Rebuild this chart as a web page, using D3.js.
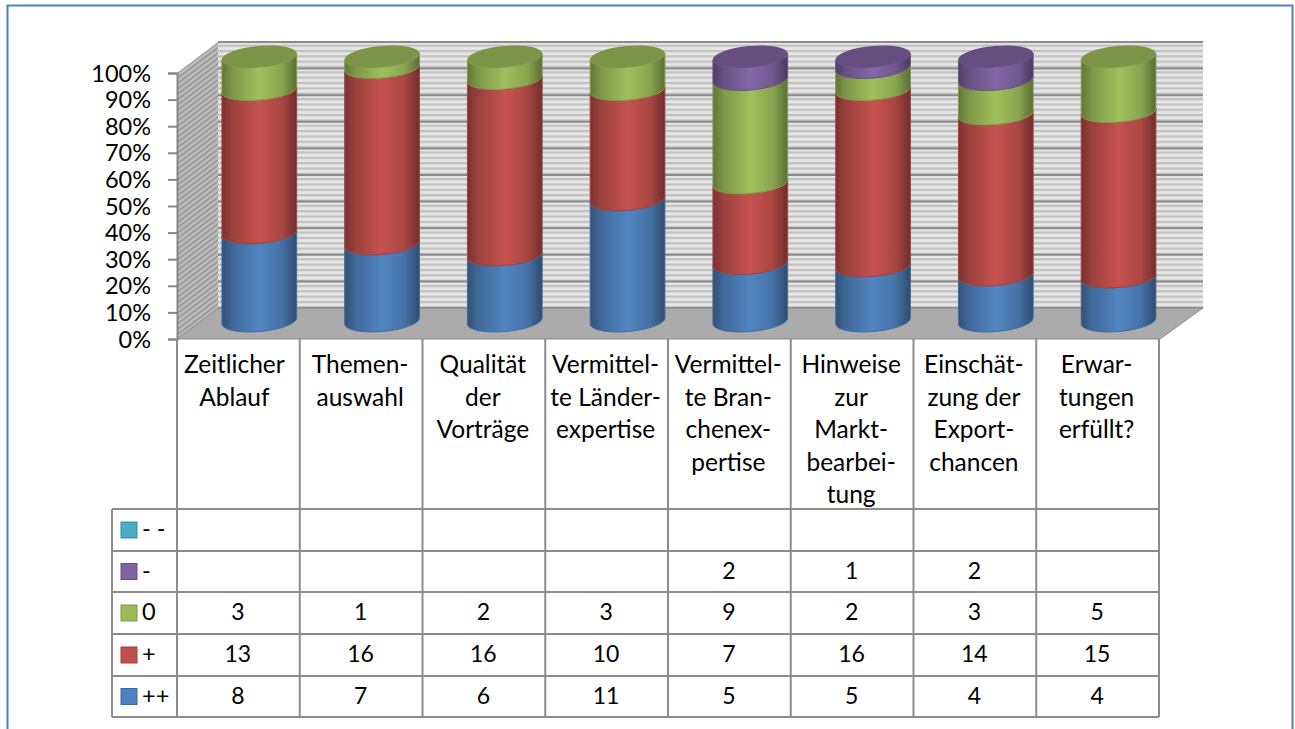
<!DOCTYPE html>
<html>
<head>
<meta charset="utf-8">
<script src="https://cdn.jsdelivr.net/npm/d3@7"></script>
<style>
body { margin: 0; background: #fff; }
svg { display: block; }
text { font-family: Lato, "Open Sans", sans-serif; fill: #000; }
</style>
</head>
<body>
<svg id="chart" width="1295" height="729"></svg>
<script>
// values
var categories = ["Zeitlicher Ablauf", "Themenauswahl", "Qualität der Vorträge", "Vermittelte Länderexpertise",
    "Vermittelte Branchenexpertise", "Hinweise zur Marktbearbeitung", "Einschätzung der Exportchancen", "Erwartungen erfüllt?"];
var categoryLines = [
    ["Zeitlicher", "Ablauf"],
    ["Themen-", "auswahl"],
    ["Qualität", "der", "Vorträge"],
    ["Vermittel-", "te Länder-", "expertise"],
    ["Vermittel-", "te Bran-", "chenex-", "pertise"],
    ["Hinweise", "zur", "Markt-", "bearbei-", "tung"],
    ["Einschät-", "zung der", "Export-", "chancen"],
    ["Erwar-", "tungen", "erfüllt?"]
];
var seriesNames = ["++", "+", "0", "-", "- -"];
var plusPlus = [8, 7, 6, 11, 5, 5, 4, 4];
var plus = [13, 16, 16, 10, 7, 16, 14, 15];
var neutral = [3, 1, 2, 3, 9, 2, 3, 5];
var minus = [null, null, null, null, 2, 1, 2, null];
var minusMinus = [null, null, null, null, null, null, null, null];
var seriesValues = [plusPlus, plus, neutral, minus, minusMinus];
var seriesColors = ["#4f81bd", "#c0504d", "#9bbb59", "#8064a2", "#4bacc6"];
var tickValues = [0, 0.1, 0.2, 0.3, 0.4, 0.5, 0.6, 0.7, 0.8, 0.9, 1];

var svg = d3.select("#chart");
var defs = svg.append("defs");

var front = { left: 177, right: 1159, bottom: 339, top: 73 };
var depth = { x: 41, y: -31 };
var tableLeft = 112;
var rowLines = [509, 551, 592, 634, 676, 717];

var rows = categories.map(function(c, i) {
    var row = { category: c };
    seriesNames.forEach(function(s, j) { row[s] = seriesValues[j][i] || 0; });
    return row;
});
var stacked = d3.stack().keys(seriesNames).offset(d3.stackOffsetExpand)(rows);

var xScale = d3.scaleBand().domain(categories).range([front.left, front.right]);
var yAxisScale = d3.scaleLinear().domain([0, 1]).range([front.bottom, front.top]);
// cylinders stand in the middle of the floor, so they get their own height scale
var yCyl = d3.scaleLinear().domain([0, 1]).range([321, 56.5]);
var yWall = d3.scaleLinear().domain([0, 1]).range([front.bottom + depth.y, front.top + depth.y]);

// outer frame, its bottom runs off the page
svg.append("path")
    .attr("d", "M7.5,729V5.5H1292.5V729")
    .attr("fill", "none")
    .attr("stroke", "#4f81bd")
    .attr("stroke-width", 2);

// wall hatching
var wallPattern = defs.append("pattern")
    .attr("id", "wallStripes")
    .attr("patternUnits", "userSpaceOnUse")
    .attr("width", 8).attr("height", 5.34)
    .attr("y", yWall(1));
wallPattern.append("rect").attr("width", 8).attr("height", 5.34).attr("fill", "#e6e6e6");
wallPattern.append("rect").attr("y", 2.6).attr("width", 8).attr("height", 2.2).attr("fill", "#c0c0c0");

var sidePattern = defs.append("pattern")
    .attr("id", "sideStripes")
    .attr("patternUnits", "userSpaceOnUse")
    .attr("width", 6).attr("height", 5.34)
    .attr("patternTransform", "skewY(-37)");
sidePattern.append("rect").attr("width", 6).attr("height", 5.34).attr("fill", "#bcbcbc");
sidePattern.append("rect").attr("y", 2.6).attr("width", 6).attr("height", 2.2).attr("fill", "#989898");

// back wall, side wall, floor
var wallX0 = front.left + depth.x;
var wallX1 = front.right + depth.x + 3;
svg.append("rect")
    .attr("x", wallX0).attr("y", yWall(1))
    .attr("width", wallX1 - wallX0).attr("height", yWall(0) - yWall(1))
    .attr("fill", "url(#wallStripes)");
svg.append("path")
    .attr("d", "M" + front.left + "," + front.top + "L" + wallX0 + "," + yWall(1) + "V" + yWall(0) + "L" + front.left + "," + front.bottom + "Z")
    .attr("fill", "url(#sideStripes)");
svg.append("g").selectAll("line")
    .data(tickValues)
    .enter()
    .append("line")
    .attr("x1", wallX0).attr("x2", wallX1)
    .attr("y1", function(d) { return yWall(d); })
    .attr("y2", function(d) { return yWall(d); })
    .attr("stroke", "#8a8a8a")
    .attr("stroke-width", 2);
svg.append("path")
    .attr("d", "M" + front.left + "," + front.bottom + "L" + wallX0 + "," + yWall(0) + "H" + wallX1 + "L" + (front.right + 1) + "," + front.bottom + "Z")
    .attr("fill", "#ababab")
    .attr("stroke", "#8c8c8c")
    .attr("stroke-width", 1);

// y axis
var yAxis = d3.axisLeft(yAxisScale)
    .tickValues(tickValues)
    .tickFormat(d3.format(".0%"))
    .tickSize(9)
    .tickPadding(17);
var yAxisG = svg.append("g")
    .attr("transform", "translate(" + front.left + ",0)")
    .call(yAxis);
yAxisG.select(".domain").attr("stroke", "#868686").attr("stroke-width", 2);
yAxisG.selectAll(".tick line").attr("stroke", "#868686").attr("stroke-width", 2);
yAxisG.selectAll("text").style("font-size", "23.5px").attr("dy", "0.34em");

// gradients for the cylinder sides
seriesColors.forEach(function(color, i) {
    var base = d3.rgb(color);
    var g = defs.append("linearGradient").attr("id", "side" + i);
    g.append("stop").attr("offset", "0%").attr("stop-color", base.darker(1.3));
    g.append("stop").attr("offset", "14%").attr("stop-color", base.darker(0.6));
    g.append("stop").attr("offset", "50%").attr("stop-color", base.brighter(0.08));
    g.append("stop").attr("offset", "80%").attr("stop-color", base.darker(0.35));
    g.append("stop").attr("offset", "100%").attr("stop-color", base.darker(1.5));
});

// cylinders
var rx = 37.5;
var ry = 10.5;
var tilt = -5;
var cylCenter = function(i) { return xScale(categories[i]) + 82.3; };

function sidePath(cx, yBottom, yTop) {
    var dy = rx * Math.sin(tilt * Math.PI / 180);
    var dx = rx * Math.cos(tilt * Math.PI / 180);
    return "M" + (cx - dx) + "," + (yTop - dy) +
        "L" + (cx - dx) + "," + (yBottom - dy) +
        "A" + rx + "," + ry + " " + tilt + " 0 0 " + (cx + dx) + "," + (yBottom + dy) +
        "L" + (cx + dx) + "," + (yTop + dy) +
        "A" + rx + "," + ry + " " + tilt + " 0 1 " + (cx - dx) + "," + (yTop - dy) + "Z";
}

var cylinders = svg.append("g").selectAll("g")
    .data(categories)
    .enter()
    .append("g")
    .attr("class", "cylinder");

cylinders.each(function(c, i) {
    var g = d3.select(this);
    var cx = cylCenter(i);
    stacked.forEach(function(layer, s) {
        var d = layer[i];
        if (d[1] - d[0] <= 0) return;
        g.append("path")
            .attr("d", sidePath(cx, yCyl(d[0]), yCyl(d[1])))
            .attr("fill", "url(#side" + s + ")")
            .attr("stroke", d3.rgb(seriesColors[s]).darker(0.5))
            .attr("stroke-width", 1);
    });
    // cap of the top segment
    var topIndex = d3.max(seriesNames.map(function(n, s) { return stacked[s][i][1] - stacked[s][i][0] > 0 ? s : -1; }));
    g.append("ellipse")
        .attr("cx", cx).attr("cy", yCyl(1))
        .attr("rx", rx).attr("ry", ry)
        .attr("transform", "rotate(" + tilt + " " + cx + " " + yCyl(1) + ")")
        .attr("fill", d3.rgb(seriesColors[topIndex]).darker(0.65));
});

// data table
var table = svg.append("g");
var lineColor = "#8c8c8c";
var colEdges = categories.map(function(c) { return xScale(c); }).concat([front.right]);

table.selectAll("line.col")
    .data(colEdges)
    .enter()
    .append("line")
    .attr("class", "col")
    .attr("x1", function(d) { return d; })
    .attr("x2", function(d) { return d; })
    .attr("y1", front.bottom)
    .attr("y2", rowLines[rowLines.length - 1])
    .attr("stroke", lineColor)
    .attr("stroke-width", 2);
table.selectAll("line.row")
    .data(rowLines)
    .enter()
    .append("line")
    .attr("class", "row")
    .attr("x1", tableLeft)
    .attr("x2", front.right)
    .attr("y1", function(d) { return d; })
    .attr("y2", function(d) { return d; })
    .attr("stroke", lineColor)
    .attr("stroke-width", 2);
table.append("line")
    .attr("x1", tableLeft).attr("x2", tableLeft)
    .attr("y1", rowLines[0]).attr("y2", rowLines[rowLines.length - 1])
    .attr("stroke", lineColor)
    .attr("stroke-width", 2);

// category labels, the first one sits a bit left of centre in the original
categoryLines.forEach(function(lines, i) {
    table.append("text")
        .attr("text-anchor", "middle")
        .style("font-size", "24.5px")
        .selectAll("tspan")
        .data(lines)
        .enter()
        .append("tspan")
        .attr("x", xScale(categories[i]) + xScale.bandwidth() / 2 - (i == 0 ? 4 : 1))
        .attr("y", function(d, k) { return 373 + k * 32.6; })
        .text(function(d) { return d; });
});

// legend column and values, rows run top to bottom in reverse series order
var tableOrder = [4, 3, 2, 1, 0];
tableOrder.forEach(function(s, r) {
    var midY = (rowLines[r] + rowLines[r + 1]) / 2;
    table.append("rect")
        .attr("x", 121).attr("y", midY - 8)
        .attr("width", 16).attr("height", 16)
        .attr("fill", seriesColors[s])
        .attr("stroke", d3.rgb(seriesColors[s]).darker(0.6))
        .attr("stroke-width", 1);
    table.append("text")
        .attr("x", 142).attr("y", midY + 7)
        .style("font-size", "23.5px")
        .text(seriesNames[s]);
    table.selectAll("text.v" + s)
        .data(seriesValues[s])
        .enter()
        .append("text")
        .attr("class", "v" + s)
        .attr("text-anchor", "middle")
        .attr("x", function(d, i) { return xScale(categories[i]) + xScale.bandwidth() / 2 - 0.5; })
        .attr("y", midY + 7)
        .style("font-size", "23px")
        .text(function(d) { return d == null ? "" : d; });
});
</script>
</body>
</html>
